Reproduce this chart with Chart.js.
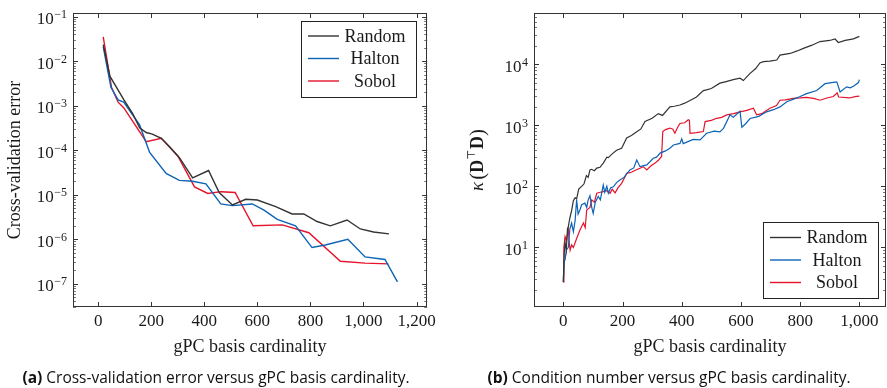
<!DOCTYPE html>
<html>
<head>
<meta charset="utf-8">
<script src="https://cdn.jsdelivr.net/npm/chart.js@4.4.1/dist/chart.umd.min.js"></script>
<style>
  body { margin: 0; background: #fff; width: 887px; height: 388px; position: relative; overflow: hidden; }
  .panel { position: absolute; top: 0; height: 388px; }
  .cap { position: absolute; top: 368px; font-family: "Open Sans", "Noto Sans", sans-serif; font-size: 15.5px;
         line-height: 18px; color: #111; white-space: nowrap; transform: translateX(-50%); }
  .cap b { font-weight: 700; }
</style>
</head>
<body>
<div class="panel" style="left:0;width:440px"><canvas id="cvChart" width="440" height="388"></canvas></div>
<div class="panel" style="left:440px;width:447px"><canvas id="condChart" width="447" height="388"></canvas></div>
<div class="cap" style="left:216px"><b>(a)</b> Cross-validation error versus gPC basis cardinality.</div>
<div class="cap" style="left:669px"><b>(b)</b> Condition number versus gPC basis cardinality.</div>

<script>
// ========= data =========

const seriesNames = ["Random", "Halton", "Sobol"];
const seriesColors = ["#333333", "#0d63b5", "#e5132b"];

// (a) cross-validation error
const cvRandomN   = [19, 44, 97, 131, 156, 181, 204, 238, 269, 306, 356, 416, 456, 506, 556, 600, 669, 731, 775, 825, 875, 938, 988, 1038, 1096];
const cvRandomErr = [2.35e-2, 4.6e-3, 1.35e-3, 6.5e-4, 3.2e-4, 2.5e-4, 2.3e-4, 1.85e-4, 1.2e-4, 6.8e-5, 2.4e-5, 3.5e-5, 1.12e-5, 5.9e-6, 7.9e-6, 7.6e-6, 5.4e-6, 3.7e-6, 3.7e-6, 2.5e-6, 2.0e-6, 2.7e-6, 1.7e-6, 1.45e-6, 1.32e-6];
const cvHaltonN   = [19, 48, 75, 96, 156, 194, 256, 306, 356, 406, 462, 506, 581, 625, 675, 744, 806, 856, 941, 1006, 1081, 1128];
const cvHaltonErr = [2.1e-2, 2.6e-3, 1.35e-3, 1.2e-3, 3.7e-4, 8.9e-5, 3.0e-5, 2.1e-5, 2.0e-5, 1.75e-5, 6.2e-6, 5.7e-6, 6.2e-6, 4.5e-6, 2.8e-6, 2.0e-6, 6.5e-7, 7.4e-7, 1.0e-6, 4.0e-7, 3.5e-7, 1.1e-7];
const cvSobolN    = [19, 50, 75, 96, 181, 238, 300, 363, 413, 463, 516, 584, 694, 794, 913, 1006, 1094];
const cvSobolErr  = [3.5e-2, 2.6e-3, 1.2e-3, 9.0e-4, 1.55e-4, 1.85e-4, 7.4e-5, 1.5e-5, 1.07e-5, 1.17e-5, 1.12e-5, 2.0e-6, 2.1e-6, 1.4e-6, 3.2e-7, 2.9e-7, 2.8e-7];

// (b) condition number
const condRandomN = [0, 3, 6, 10, 14, 17, 22, 28, 34, 40, 45, 52, 62, 70, 78, 84, 90, 95, 105, 113, 124, 135, 147, 152, 165, 180, 197, 214, 230, 248, 262, 276, 300, 321, 335, 360, 375, 394, 410, 428, 450, 473, 484, 500, 529, 550, 574, 597, 608, 630, 650, 664, 676, 698, 721, 732, 766, 790, 811, 840, 867, 900, 918, 929, 952, 980, 1000];
const condRandomK = [2.7, 8, 12, 9, 20, 22, 30, 40, 58, 65, 62, 90, 100, 110, 150, 140, 186, 190, 180, 199, 205, 240, 300, 295, 340, 390, 420, 620, 680, 780, 870, 1150, 1300, 1550, 1450, 2000, 2050, 2150, 2300, 2550, 2900, 3700, 3800, 4000, 4900, 5200, 5600, 5900, 5400, 7000, 8500, 10500, 11000, 11200, 11700, 14100, 15000, 16500, 18200, 20500, 23500, 24500, 25900, 22700, 24500, 26000, 28600];
const condHaltonN = [0, 3, 6, 10, 17, 22, 28, 34, 40, 45, 50, 56, 62, 73, 79, 84, 90, 96, 101, 108, 118, 125, 135, 140, 147, 152, 160, 169, 180, 191, 205, 225, 238, 248, 259, 282, 304, 315, 327, 345, 360, 372, 394, 400, 405, 439, 462, 484, 510, 529, 541, 563, 574, 597, 603, 615, 631, 660, 687, 710, 732, 755, 780, 800, 822, 856, 884, 918, 924, 935, 957, 969, 980, 997, 1000];
const condHaltonK = [2.7, 6, 6.2, 9, 10, 20, 25, 18, 28, 60, 35, 41, 50, 53, 45, 60, 70, 45, 36, 55, 68, 60, 105, 80, 100, 77, 95, 98, 115, 127, 140, 186, 200, 270, 210, 224, 288, 300, 350, 380, 420, 475, 505, 600, 500, 585, 575, 740, 800, 780, 890, 1480, 1350, 1700, 930, 1050, 1290, 1400, 1660, 1800, 2000, 2430, 2700, 2960, 3300, 3700, 4800, 5100, 5100, 3500, 4260, 4100, 4370, 5000, 5600];
const condSobolN  = [0, 2, 6, 11, 17, 20, 23, 28, 34, 45, 56, 62, 68, 74, 79, 90, 96, 105, 113, 125, 135, 147, 158, 165, 175, 185, 197, 214, 230, 245, 259, 270, 282, 295, 310, 322, 332, 336, 345, 360, 370, 377, 385, 394, 410, 422, 426, 428, 450, 473, 479, 500, 518, 535, 552, 575, 597, 620, 642, 653, 670, 698, 720, 732, 750, 777, 800, 822, 845, 867, 890, 912, 925, 930, 968, 985, 1000];
const condSobolK  = [2.7, 10, 15, 13, 20, 12, 9, 11, 10, 14, 19, 22, 25, 21, 41, 45, 60, 55, 77, 80, 82, 85, 77, 90, 78, 95, 112, 163, 170, 185, 198, 210, 186, 215, 240, 270, 308, 790, 850, 900, 860, 740, 900, 1070, 1100, 1230, 1200, 740, 760, 790, 1150, 1200, 1300, 1350, 1480, 1550, 1660, 1750, 1900, 1480, 1550, 1900, 2100, 2570, 2600, 2760, 2800, 2870, 2750, 2570, 2800, 2960, 3400, 2900, 2800, 2950, 3000];

// tick labels
const cvXTicks = [0, 200, 400, 600, 800, 1000, 1200];
const cvYTicks = [1e-7, 1e-6, 1e-5, 1e-4, 1e-3, 1e-2, 1e-1];
const condXTicks = [0, 200, 400, 600, 800, 1000];
const condYTicks = [1e1, 1e2, 1e3, 1e4];

// ========= helpers =========

const serif = '"Liberation Serif", "DejaVu Serif", "Times New Roman", serif';
const ink = "#1a1a1a";

function pts(xs, ys) {
  return xs.map((x, i) => ({ x, y: ys[i] }));
}

function makeDatasets(lists, width) {
  return lists.map((d, i) => ({
    label: seriesNames[i],
    data: pts(d[0], d[1]),
    borderColor: seriesColors[i],
    backgroundColor: seriesColors[i],
    borderWidth: width,
    pointRadius: 0,
    tension: 0,
    fill: false
  }));
}

// frame, inward ticks, 10^n labels, boxed legend (pgfplots look)
const pgfAxis = {
  id: "pgfAxis",
  afterDraw(chart, args, o) {
    const { ctx, chartArea: a, scales } = chart;
    const xs = scales.x, ys = scales.y;
    ctx.save();

    // minor ticks
    ctx.strokeStyle = "#777";
    ctx.lineWidth = 1;
    ctx.beginPath();
    const lo = Math.floor(Math.log10(ys.min)), hi = Math.ceil(Math.log10(ys.max));
    for (let d = lo; d <= hi; d++) {
      for (let k = 2; k <= 9; k++) {
        const v = k * Math.pow(10, d);
        if (v < ys.min || v > ys.max) continue;
        const py = Math.round(ys.getPixelForValue(v)) + 0.5;
        ctx.moveTo(a.left, py); ctx.lineTo(a.left + 3, py);
        ctx.moveTo(a.right, py); ctx.lineTo(a.right - 3, py);
      }
    }
    ctx.stroke();

    // major ticks + frame
    ctx.strokeStyle = "#333";
    ctx.beginPath();
    o.xTicks.forEach(v => {
      const px = Math.round(xs.getPixelForValue(v)) + 0.5;
      ctx.moveTo(px, a.bottom); ctx.lineTo(px, a.bottom - 5);
      ctx.moveTo(px, a.top); ctx.lineTo(px, a.top + 5);
    });
    for (let d = lo; d <= hi; d++) {
      const v = Math.pow(10, d);
      if (v < ys.min || v > ys.max) continue;
      const py = Math.round(ys.getPixelForValue(v)) + 0.5;
      ctx.moveTo(a.left, py); ctx.lineTo(a.left + 5, py);
      ctx.moveTo(a.right, py); ctx.lineTo(a.right - 5, py);
    }
    ctx.stroke();
    ctx.strokeRect(Math.round(a.left) + 0.5, Math.round(a.top) + 0.5,
                   Math.round(a.right - a.left) - 1, Math.round(a.bottom - a.top) - 1);

    // y tick labels: 10 with raised exponent
    ctx.fillStyle = ink;
    ctx.textAlign = "right";
    ctx.textBaseline = "middle";
    o.yTicks.forEach(v => {
      const py = ys.getPixelForValue(v);
      const e = Math.round(Math.log10(v));
      const es = (e < 0 ? "\u2212" : "") + Math.abs(e);
      const xr = a.left - 6;
      ctx.font = `12px ${serif}`;
      const ew = ctx.measureText(es).width;
      ctx.fillText(es, xr, py - 1.5);
      ctx.font = `17px ${serif}`;
      ctx.fillText("10", xr - ew - 0.5, py + 3);
    });

    // legend box
    const L = o.legend;
    const bx = Math.round(a.right - L.right - L.w);
    const by = Math.round(L.top != null ? a.top + L.top : a.bottom - L.bottom - L.h);
    ctx.fillStyle = "#fff";
    ctx.fillRect(bx, by, L.w, L.h);
    ctx.strokeStyle = "#222";
    ctx.lineWidth = 1;
    ctx.strokeRect(bx + 0.5, by + 0.5, L.w, L.h);
    ctx.textAlign = "center";
    ctx.font = `18px ${serif}`;
    chart.data.datasets.forEach((ds, i) => {
      const cy = by + L.rows[i];
      ctx.strokeStyle = ds.borderColor;
      ctx.lineWidth = 1.4;
      ctx.beginPath();
      ctx.moveTo(bx + 7, cy); ctx.lineTo(bx + 38, cy);
      ctx.stroke();
      ctx.fillStyle = ink;
      ctx.fillText(ds.label, bx + 74, cy + 1);
    });

    // kappa label for panel (b)
    if (o.kappa) {
      const parts = [
        ["\u03BA", `italic 19px ${serif}`, 0, 2],
        ["(", `21px ${serif}`, 0, 0],
        ["D", `bold 18px ${serif}`, 0, 0],
        ["\u22A4", `11px "DejaVu Serif", ${serif}`, -6, 0.5],
        ["D", `bold 18px ${serif}`, 0, 0],
        [")", `21px ${serif}`, 0, 0]
      ];
      let total = 0;
      parts.forEach(p => { ctx.font = p[1]; p.push(ctx.measureText(p[0]).width); total += p[4] + p[3]; });
      ctx.translate(o.kappa.x, (a.top + a.bottom) / 2);
      ctx.rotate(-Math.PI / 2);
      ctx.textAlign = "left";
      ctx.textBaseline = "middle";
      ctx.fillStyle = ink;
      let x = -total / 2;
      parts.forEach(p => {
        ctx.font = p[1];
        ctx.fillText(p[0], x, p[2]);
        x += p[4] + p[3];
      });
    }
    ctx.restore();
  }
};

function xScale(min, max, ticks) {
  return {
    type: "linear", min, max,
    afterBuildTicks: s => { s.ticks = ticks.map(v => ({ value: v })); },
    afterFit: s => { s.height = 55; },
    grid: { display: false, drawTicks: false },
    border: { display: false },
    ticks: {
      font: { family: serif, size: 17 }, color: ink, padding: 4, maxRotation: 0, autoSkip: false,
      callback: v => v.toLocaleString("en-US")
    },
    title: { display: true, text: "gPC basis cardinality", color: ink,
             font: { family: serif, size: 18 }, padding: { top: 0, bottom: 4 } }
  };
}

function yScale(min, max, width, title) {
  return {
    type: "logarithmic", min, max,
    afterFit: s => { s.width = width; },
    grid: { display: false, drawTicks: false },
    border: { display: false },
    ticks: { display: false },
    title: title
      ? { display: true, text: title, color: ink, font: { family: serif, size: 18 }, padding: { top: 4, bottom: 0 } }
      : { display: false }
  };
}

// ========= charts =========

new Chart(document.getElementById("cvChart"), {
  type: "line",
  data: {
    datasets: makeDatasets([[cvRandomN, cvRandomErr], [cvHaltonN, cvHaltonErr], [cvSobolN, cvSobolErr]], 1.4)
  },
  options: {
    responsive: false, animation: false, devicePixelRatio: 1,
    layout: { padding: { left: 0, right: 11, top: 13, bottom: 26 } },
    scales: {
      x: xScale(-95, 1240, cvXTicks),
      y: yScale(3.05e-8, 0.121, 73, "Cross-validation error")
    },
    plugins: {
      legend: { display: false }, tooltip: { enabled: false },
      pgfAxis: { xTicks: cvXTicks, yTicks: cvYTicks,
                 legend: { right: 11, top: 8, w: 115, h: 76, rows: [15, 37.5, 60] } }
    }
  },
  plugins: [pgfAxis]
});

new Chart(document.getElementById("condChart"), {
  type: "line",
  data: {
    datasets: makeDatasets([[condRandomN, condRandomK], [condHaltonN, condHaltonK], [condSobolN, condSobolK]], 1.2)
  },
  options: {
    responsive: false, animation: false, devicePixelRatio: 1,
    layout: { padding: { left: 0, right: 1, top: 13, bottom: 26 } },
    scales: {
      x: xScale(-99, 1090, condXTicks),
      y: yScale(1.055, 69000, 94, null)
    },
    plugins: {
      legend: { display: false }, tooltip: { enabled: false },
      pgfAxis: { xTicks: condXTicks, yTicks: condYTicks, kappa: { x: 38 },
                 legend: { right: 8, bottom: 9, w: 115, h: 76, rows: [15.5, 38, 60.5] } }
    }
  },
  plugins: [pgfAxis]
});
</script>
</body>
</html>
